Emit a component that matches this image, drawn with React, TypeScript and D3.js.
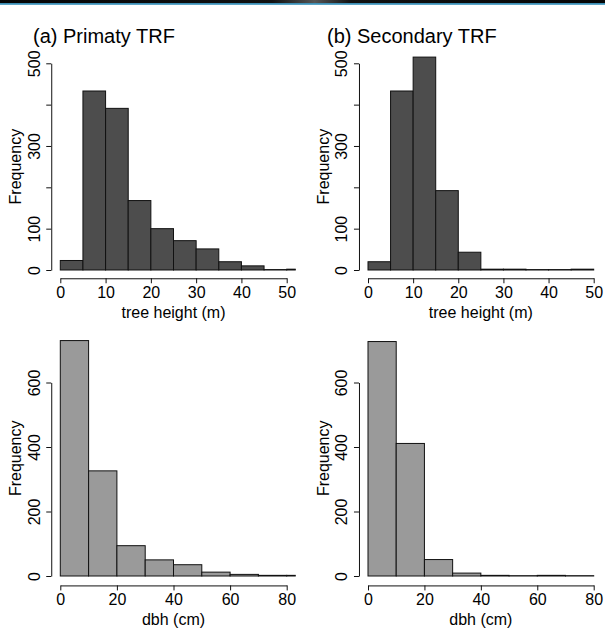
import React, { useRef, useEffect } from 'react';
import * as d3 from 'd3';

// bin edges and counts
const heightBreaks = [0, 5, 10, 15, 20, 25, 30, 35, 40, 45, 50, 55];
const primaryHeight = [23, 433, 391, 168, 100, 71, 51, 20, 10, 1, 2];
const secondaryHeight = [20, 433, 515, 192, 43, 2, 2, 1, 1, 2];

const dbhBreaks = [0, 10, 20, 30, 40, 50, 60, 70, 80, 90];
const primaryDbh = [730, 326, 94, 50, 35, 12, 5, 2, 2];
const secondaryDbh = [727, 411, 51, 9, 2, 1, 2, 1];

const heightTicks = [0, 10, 20, 30, 40, 50];
const dbhTicks = [0, 20, 40, 60, 80];
const heightFreqTicks = [0, 100, 200, 300, 400, 500];
const heightFreqLabels = [0, 100, 300, 500];
const dbhFreqTicks = [0, 200, 400, 600];

const panelTitles = ['(a) Primaty TRF', '(b) Secondary TRF'];

const FONT = "'Liberation Sans', Arial, Helvetica, sans-serif";

type Panel = {
    id: string;
    breaks: number[];
    counts: number[];
    xMax: number;
    xRange: [number, number];
    yMax: number;
    yLim: number;
    yRange: [number, number];
    xTicks: number[];
    yTicks: number[];
    yLabels: number[];
    fill: string;
    xLabel: string;
};

const drawPanel = (svg: d3.Selection<SVGSVGElement, unknown, null, undefined>, p: Panel) => {
    const x = d3.scaleLinear().domain([0, p.xMax]).range(p.xRange);
    const y = d3.scaleLinear().domain([0, p.yMax]).range(p.yRange);

    // R pads the plot region by 4% on every side
    const pad = p.xMax * 0.04;
    const left = x(-pad), right = x(p.xMax + pad);
    const axisY = y(-p.yLim * 0.04);

    svg.append('clipPath')
        .attr('id', p.id)
        .append('rect')
        .attr('x', left)
        .attr('y', 0)
        .attr('width', right - left)
        .attr('height', 628);

    // bars
    svg.append('g')
        .attr('clip-path', `url(#${p.id})`)
        .selectAll('rect')
        .data(p.counts)
        .enter()
        .append('rect')
        .attr('x', (d, i) => x(p.breaks[i]))
        .attr('width', (d, i) => x(p.breaks[i + 1]) - x(p.breaks[i]))
        .attr('y', d => y(d))
        .attr('height', d => y(0) - y(d))
        .attr('fill', p.fill)
        .attr('stroke', '#111')
        .attr('stroke-width', 1);

    // x axis
    const xAxis = svg.append('g')
        .attr('transform', `translate(0,${axisY})`)
        .call(d3.axisBottom(x).tickValues(p.xTicks).tickSize(5).tickSizeOuter(0));
    xAxis.selectAll('text')
        .attr('y', 19.5)
        .attr('dy', 0)
        .attr('fill', '#000')
        .style('font-size', '16px')
        .style('font-family', FONT);

    svg.append('text')
        .attr('x', (p.xRange[0] + p.xRange[1]) / 2)
        .attr('y', axisY + 39.5)
        .attr('text-anchor', 'middle')
        .style('font-size', '16px')
        .style('font-family', FONT)
        .text(p.xLabel);

    // y axis, labels turned like R's las=0
    const yAxis = svg.append('g')
        .attr('transform', `translate(${left},0)`)
        .call(d3.axisLeft(y).tickValues(p.yTicks).tickSize(5).tickSizeOuter(0)
            .tickFormat(d => (p.yLabels.includes(+d) ? String(d) : '')));
    yAxis.selectAll('text')
        .attr('transform', 'rotate(-90)')
        .attr('x', 0)
        .attr('y', -11.5)
        .attr('dy', 0)
        .attr('text-anchor', 'middle')
        .attr('fill', '#000')
        .style('font-size', '16px')
        .style('font-family', FONT);

    svg.append('text')
        .attr('transform', `translate(${left - 30.3},${y(p.yLim / 2)}) rotate(-90)`)
        .attr('text-anchor', 'middle')
        .style('font-size', '16px')
        .style('font-family', FONT)
        .text('Frequency');

    svg.selectAll('.domain').attr('stroke', '#111');
    svg.selectAll('.tick line').attr('stroke', '#111');
};

const App = () => {
    const chartRef = useRef<SVGSVGElement>(null);

    useEffect(() => {
        const svg = d3.select(chartRef.current as SVGSVGElement);
        svg.selectAll('*').remove();

        // dark strip along the top edge
        const grad = svg.append('defs').append('linearGradient').attr('id', 'strip');
        grad.append('stop').attr('offset', '0%').attr('stop-color', '#050505');
        grad.append('stop').attr('offset', '45%').attr('stop-color', '#111');
        grad.append('stop').attr('offset', '52%').attr('stop-color', '#555');
        grad.append('stop').attr('offset', '58%').attr('stop-color', '#111');
        grad.append('stop').attr('offset', '100%').attr('stop-color', '#050505');
        svg.append('rect').attr('x', 0).attr('y', 0).attr('width', 605).attr('height', 3.2).attr('fill', 'url(#strip)');
        svg.append('rect').attr('x', 0).attr('y', 3.2).attr('width', 605).attr('height', 1.5).attr('fill', '#1a7fae');

        const top = { yMax: 500, yLim: 500, yRange: [270, 63.3] as [number, number], yTicks: heightFreqTicks, yLabels: heightFreqLabels, breaks: heightBreaks, xMax: 50, xTicks: heightTicks, fill: '#4d4d4d', xLabel: 'tree height (m)' };
        const bottom = { yMax: 600, yLim: 730, yRange: [576, 382.5] as [number, number], yTicks: dbhFreqTicks, yLabels: dbhFreqTicks, breaks: dbhBreaks, xMax: 80, xTicks: dbhTicks, fill: '#9a9a9a', xLabel: 'dbh (cm)' };

        drawPanel(svg, { ...top, id: 'pa', counts: primaryHeight, xRange: [60.3, 286.7] });
        drawPanel(svg, { ...top, id: 'pb', counts: secondaryHeight, xRange: [368, 593.7] });
        drawPanel(svg, { ...bottom, id: 'pc', counts: primaryDbh, xRange: [60.3, 286.7] });
        drawPanel(svg, { ...bottom, id: 'pd', counts: secondaryDbh, xRange: [368, 593.7] });

        svg.selectAll('text.title')
            .data(panelTitles)
            .enter()
            .append('text')
            .attr('class', 'title')
            .attr('x', (d, i) => (i === 0 ? 33 : 327))
            .attr('y', 43)
            .style('font-size', '20px')
            .style('font-family', FONT)
            .text(d => d);
    }, []);

    return (
        <svg ref={chartRef} width={605} height={628}
            style={{ position: 'absolute', left: 0, top: 0, background: '#fff' }} />
    );
};

export default App;
